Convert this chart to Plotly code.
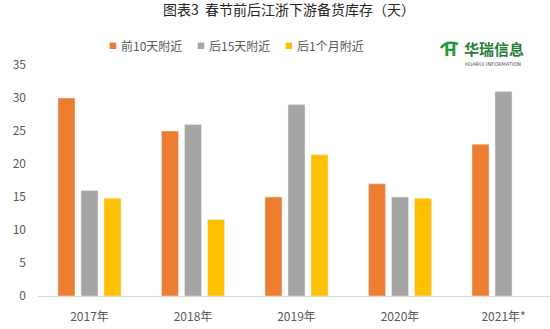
import plotly.graph_objects as go

years = ["2017年", "2018年", "2019年", "2020年", "2021年*"]
before_10d = [30, 25, 15, 17, 23]
after_15d = [16, 26, 29, 15, 31]
after_1m = [14.8, 11.6, 21.4, 14.8, None]
y_ticks = [0, 5, 10, 15, 20, 25, 30, 35]

series_names = ["前10天附近", "后15天附近", "后1个月附近"]
series_colors = ["#ED7D31", "#A5A5A5", "#FFC000"]

FONT = "Noto Sans CJK SC, sans-serif"
TXT = "#595959"

W, H = 550, 329
L, R, T, B = 38, 0, 65, 33
PW, PH = W - L - R, H - T - B


def px_x(px):
    return (px - L) / PW


def px_y(py):
    return (H - B - py) / PH


fig = go.Figure()
for name, vals, col in zip(series_names, [before_10d, after_15d, after_1m], series_colors):
    fig.add_bar(x=years, y=vals, name=name, marker_color=col, showlegend=False)

fig.update_layout(
    width=W, height=H,
    margin=dict(l=L, r=R, t=T, b=B),
    paper_bgcolor="white", plot_bgcolor="white",
    barmode="group", bargap=0.333, bargroupgap=0.26,
    font=dict(family=FONT, size=12, color=TXT),
    title=dict(text="图表3  春节前后江浙下游备货库存（天）", xref="container",
               x=289 / W, xanchor="center", y=1 - 10 / H, yanchor="middle",
               font=dict(family=FONT, size=14, color="#262626")),
)
fig.update_xaxes(range=[-0.4976, 4.449], showline=True, linecolor="#d9d9d9", linewidth=1,
                 ticks="", ticklabelstandoff=10, tickfont=dict(size=12, color=TXT),
                 showgrid=False)
fig.update_yaxes(range=[0, 35], tickvals=y_ticks, showgrid=False, zeroline=False,
                 showline=False, ticks="", ticklabelstandoff=11,
                 tickfont=dict(size=12, color=TXT))

# legend row: small colour squares followed by series names
legend_marker_px = [113, 201, 289]
for name, col, mx in zip(series_names, series_colors, legend_marker_px):
    fig.add_annotation(text="■", xref="paper", yref="paper", x=px_x(mx), y=px_y(45.5),
                       xanchor="center", yanchor="middle", showarrow=False,
                       font=dict(family=FONT, size=8, color=col))
    fig.add_annotation(text=name, xref="paper", yref="paper", x=px_x(mx + 6), y=px_y(45),
                       xanchor="left", yanchor="middle", showarrow=False,
                       font=dict(family=FONT, size=12, color=TXT))

# company logo, top right
fig.add_annotation(text="<b>华瑞信息</b>", xref="paper", yref="paper", x=px_x(462), y=px_y(49),
                   xanchor="left", yanchor="middle", showarrow=False,
                   font=dict(family=FONT, size=15, color="#2a7d3a"))
fig.add_annotation(text="HUARUI INFORMATION", xref="paper", yref="paper", x=px_x(463),
                   y=px_y(64), xanchor="left", yanchor="middle", showarrow=False,
                   font=dict(family="DejaVu Sans", size=5, color="#555"))
fig.add_annotation(text="<b>H</b>", xref="paper", yref="paper", x=px_x(450), y=px_y(51),
                   xanchor="center", yanchor="middle", showarrow=False,
                   font=dict(family="DejaVu Sans", size=15, color="#1f9a3a"))
fig.add_shape(type="path", xref="paper", yref="paper",
              path=f"M {px_x(441)},{px_y(48)} Q {px_x(446)},{px_y(40)} {px_x(458)},{px_y(44)}",
              line=dict(color="#1f9a3a", width=2.5))

fig.write_html("out.html")
